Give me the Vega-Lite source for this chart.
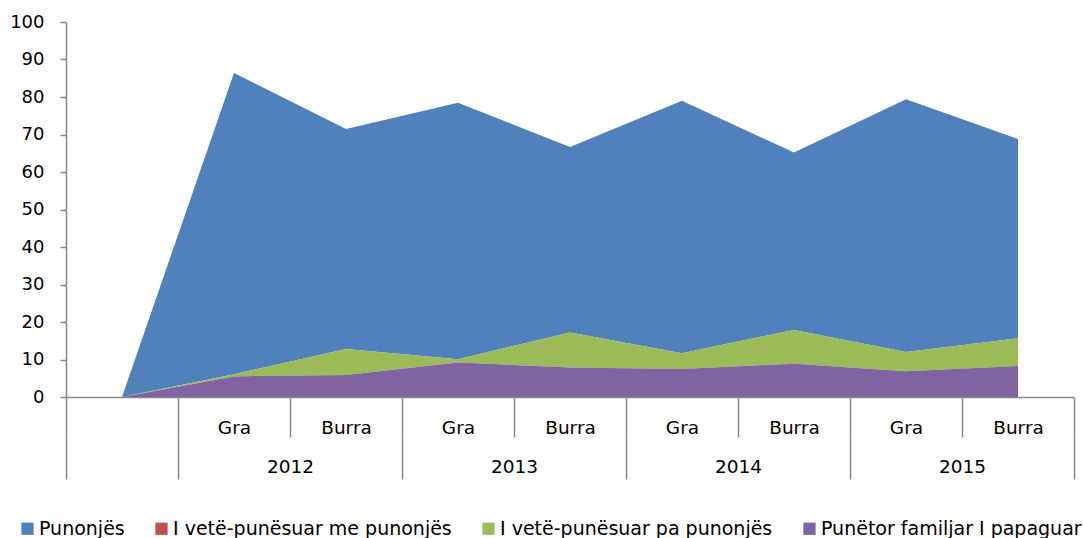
{
  "$schema": "https://vega.github.io/schema/vega-lite/v6.json",
  "width": 1008,
  "height": 375,
  "autosize": {"type": "none"},
  "padding": {"left": 66, "top": 22, "right": 9, "bottom": 141},
  "background": "white",
  "config": {
    "view": {"stroke": null},
    "font": "DejaVu Sans",
    "axis": {"labelFont": "DejaVu Sans", "labelColor": "#000000", "domainColor": "#868686", "tickColor": "#868686", "grid": false, "title": null, "labelOverlap": false},
    "legend": {"labelFont": "DejaVu Sans"}
  },
  "data": {
    "values": [
      {"i": 0, "series": "Punonjës", "k": 4, "v": 0},
      {"i": 1, "series": "Punonjës", "k": 4, "v": 80.3},
      {"i": 2, "series": "Punonjës", "k": 4, "v": 58.7},
      {"i": 3, "series": "Punonjës", "k": 4, "v": 68.4},
      {"i": 4, "series": "Punonjës", "k": 4, "v": 49.5},
      {"i": 5, "series": "Punonjës", "k": 4, "v": 67.3},
      {"i": 6, "series": "Punonjës", "k": 4, "v": 47.3},
      {"i": 7, "series": "Punonjës", "k": 4, "v": 67.4},
      {"i": 8, "series": "Punonjës", "k": 4, "v": 53.1},
      {"i": 0, "series": "I vetë-punësuar me punonjës", "k": 3, "v": 0},
      {"i": 1, "series": "I vetë-punësuar me punonjës", "k": 3, "v": 0},
      {"i": 2, "series": "I vetë-punësuar me punonjës", "k": 3, "v": 0},
      {"i": 3, "series": "I vetë-punësuar me punonjës", "k": 3, "v": 0},
      {"i": 4, "series": "I vetë-punësuar me punonjës", "k": 3, "v": 0},
      {"i": 5, "series": "I vetë-punësuar me punonjës", "k": 3, "v": 0},
      {"i": 6, "series": "I vetë-punësuar me punonjës", "k": 3, "v": 0},
      {"i": 7, "series": "I vetë-punësuar me punonjës", "k": 3, "v": 0},
      {"i": 8, "series": "I vetë-punësuar me punonjës", "k": 3, "v": 0},
      {"i": 0, "series": "I vetë-punësuar pa punonjës", "k": 2, "v": 0},
      {"i": 1, "series": "I vetë-punësuar pa punonjës", "k": 2, "v": 0.6},
      {"i": 2, "series": "I vetë-punësuar pa punonjës", "k": 2, "v": 6.9},
      {"i": 3, "series": "I vetë-punësuar pa punonjës", "k": 2, "v": 0.9},
      {"i": 4, "series": "I vetë-punësuar pa punonjës", "k": 2, "v": 9.3},
      {"i": 5, "series": "I vetë-punësuar pa punonjës", "k": 2, "v": 4.2},
      {"i": 6, "series": "I vetë-punësuar pa punonjës", "k": 2, "v": 9.0},
      {"i": 7, "series": "I vetë-punësuar pa punonjës", "k": 2, "v": 5.1},
      {"i": 8, "series": "I vetë-punësuar pa punonjës", "k": 2, "v": 7.4},
      {"i": 0, "series": "Punëtor familjar I papaguar", "k": 1, "v": 0},
      {"i": 1, "series": "Punëtor familjar I papaguar", "k": 1, "v": 5.5},
      {"i": 2, "series": "Punëtor familjar I papaguar", "k": 1, "v": 5.9},
      {"i": 3, "series": "Punëtor familjar I papaguar", "k": 1, "v": 9.2},
      {"i": 4, "series": "Punëtor familjar I papaguar", "k": 1, "v": 7.9},
      {"i": 5, "series": "Punëtor familjar I papaguar", "k": 1, "v": 7.5},
      {"i": 6, "series": "Punëtor familjar I papaguar", "k": 1, "v": 8.9},
      {"i": 7, "series": "Punëtor familjar I papaguar", "k": 1, "v": 6.9},
      {"i": 8, "series": "Punëtor familjar I papaguar", "k": 1, "v": 8.3}
    ]
  },
  "layer": [
    {
      "mark": {"type": "area", "opacity": 1},
      "encoding": {
        "x": {
          "field": "i", "type": "quantitative",
          "scale": {"domain": [-0.5, 8.5], "nice": false, "zero": false},
          "axis": {
            "orient": "bottom",
            "values": [-0.5, 0.5, 1.5, 2.5, 3.5, 4.5, 5.5, 6.5, 7.5, 8.5],
            "labelExpr": "datum.value < 0 || datum.value > 8 ? '' : (round(datum.value - 0.5) % 2 == 0 ? 'Gra' : 'Burra')",
            "labelOffset": 56,
            "labelFlush": false,
            "labelOverlap": false,
            "labelBound": false,
            "tickSize": 40,
            "tickWidth": 1.5,
            "domainWidth": 1.5,
            "labelPadding": -10,
            "labelBaseline": "middle",
            "labelFontSize": 18.5,
            "labelAlign": "center"
          }
        },
        "y": {
          "field": "v", "type": "quantitative", "stack": "zero",
          "scale": {"domain": [0, 100], "nice": false},
          "axis": {
            "values": [0, 10, 20, 30, 40, 50, 60, 70, 80, 90, 100],
            "labelOverlap": false,
            "labelBound": false,
            "labelFlush": false,
            "tickSize": 6,
            "tickWidth": 1.5,
            "domainWidth": 1.5,
            "labelPadding": 16,
            "labelFontSize": 18
          }
        },
        "order": {"field": "k", "type": "quantitative", "sort": "ascending"},
        "color": {
          "field": "series", "type": "nominal",
          "scale": {
            "domain": ["Punonjës", "I vetë-punësuar me punonjës", "I vetë-punësuar pa punonjës", "Punëtor familjar I papaguar"],
            "range": ["#4F81BD", "#C0504D", "#9BBB59", "#8064A2"]
          },
          "legend": {
            "orient": "none",
            "direction": "horizontal",
            "columns": 4,
            "legendX": -48,
            "legendY": 497,
            "title": null,
            "symbolType": "square",
            "symbolSize": 150,
            "symbolStrokeWidth": 0,
            "symbolOpacity": 1,
            "labelFontSize": 19,
            "labelColor": "#000000",
            "labelOffset": 2,
            "columnPadding": 27,
            "padding": 0,
            "labelLimit": 400
          }
        }
      }
    },
    {
      "mark": {"type": "point", "opacity": 0},
      "encoding": {
        "x": {
          "field": "i", "type": "quantitative",
          "scale": {"domain": [-0.5, 8.5], "nice": false, "zero": false},
          "axis": {
            "orient": "bottom",
            "offset": 40,
            "domain": false,
            "values": [-0.5, 0.5, 2.5, 4.5, 6.5, 8.5],
            "labelExpr": "datum.value == 0.5 ? '2012' : datum.value == 2.5 ? '2013' : datum.value == 4.5 ? '2014' : datum.value == 6.5 ? '2015' : ''",
            "labelOffset": 112,
            "labelFlush": false,
            "labelOverlap": false,
            "labelBound": false,
            "tickSize": 42,
            "tickWidth": 1.5,
            "labelPadding": -13,
            "labelBaseline": "middle",
            "labelFontSize": 18.5,
            "labelAlign": "center"
          }
        }
      }
    }
  ],
  "resolve": {"axis": {"x": "independent"}}
}
